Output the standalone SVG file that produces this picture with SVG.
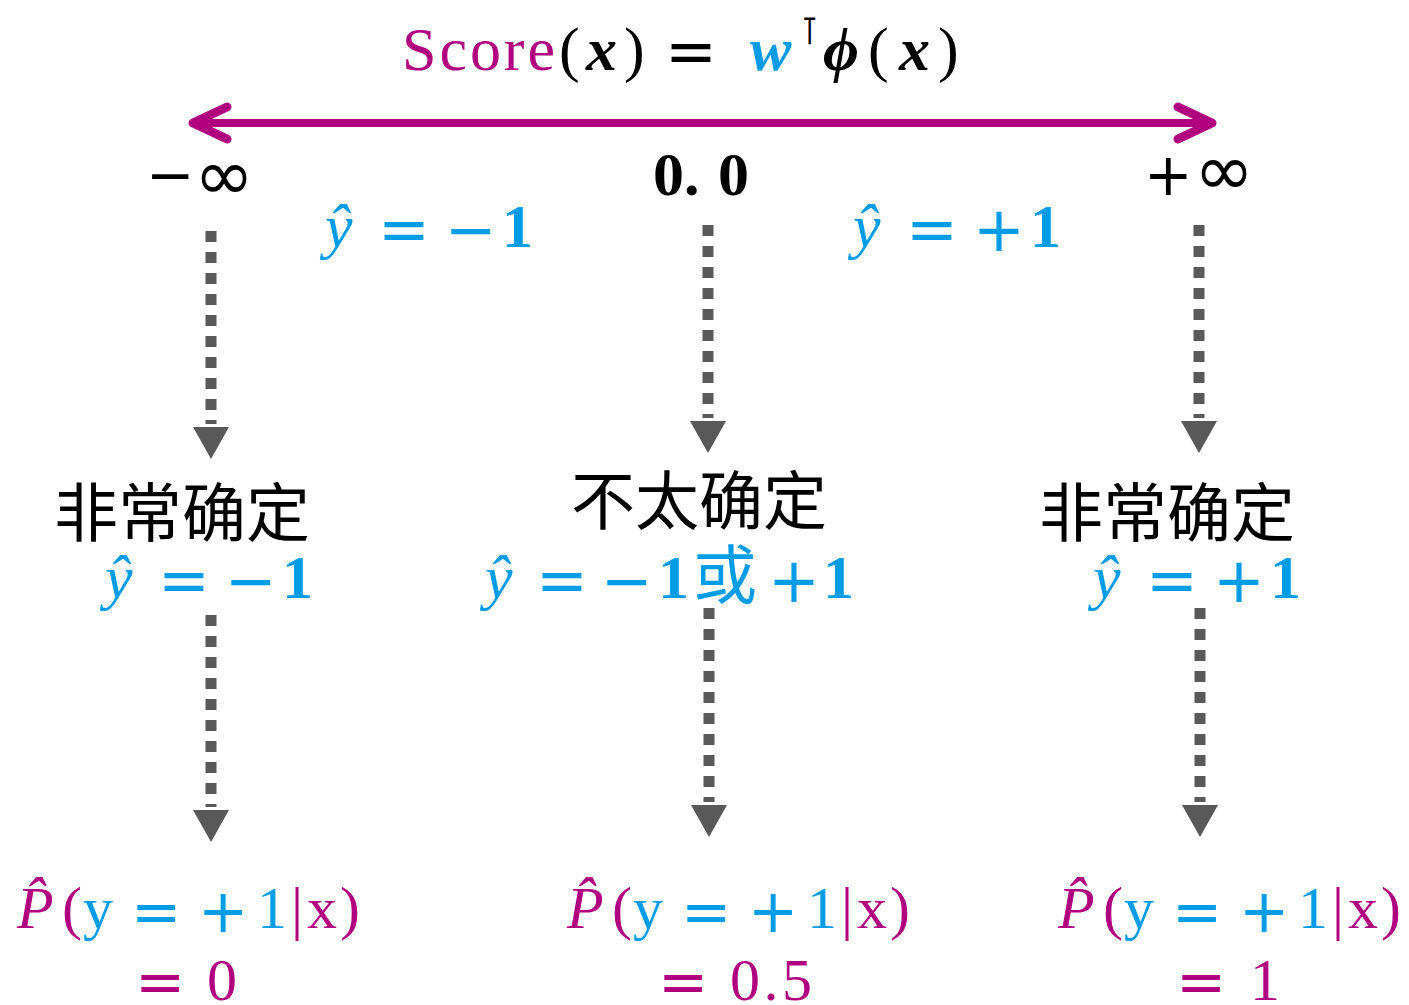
<svg xmlns="http://www.w3.org/2000/svg" width="1409" height="1005" viewBox="0 0 1409 1005">
<style>
text{font-family:"Liberation Serif","DejaVu Serif",serif;}
.m{fill:#B0007F;}
.b{fill:#009CE5;}
.k{fill:#000;}
.it{font-style:italic;}
.bd{font-weight:bold;}
.t{font-size:62px;}
.s{font-size:60px;}
.cjk{font-family:"Noto Sans CJK SC",sans-serif;font-size:64px;}
.sym{font-family:"DejaVu Sans",sans-serif;}
.op{font-family:"DejaVu Sans",sans-serif;}
.dot{stroke:#595959;stroke-width:11;stroke-dasharray:11 10;fill:none;marker-end:url(#tri);}
.axis{stroke:#B0007F;stroke-width:8;fill:none;marker-start:url(#chev);marker-end:url(#chev);}
</style>
<defs>
<marker id="tri" markerUnits="userSpaceOnUse" markerWidth="40" markerHeight="40" viewBox="-4 -20 40 40" refX="-3" refY="0" orient="auto" overflow="visible">
<path d="M0,-18 L32,0 L0,18 Z" fill="#595959"/>
</marker>
<marker id="chev" markerUnits="userSpaceOnUse" markerWidth="50" markerHeight="50" viewBox="-45 -25 50 50" refX="0" refY="0" orient="auto-start-reverse" overflow="visible">
<path d="M-34,-16 L0,0 L-34,16" fill="none" stroke="#B0007F" stroke-width="9" stroke-linecap="round" stroke-linejoin="round"/>
</marker>
</defs>

<g id="title">
<text class="t m" x="402" y="70" textLength="153">Score</text>
<text class="t k" x="559" y="70" font-size="66">(</text>
<text class="t k it bd" x="586" y="70">x</text>
<text class="t k" x="624" y="70" font-size="66">)</text>
<text class="t k op" x="665" y="73">=</text>
<text class="t b it bd" x="750" y="70" textLength="56">w</text>
<text class="sym k" x="800" y="44" font-size="38">⊺</text>
<text class="t k it bd" x="823" y="70" font-size="66">ϕ</text>
<text class="t k" x="868" y="70" font-size="66">(</text>
<text class="t k it bd" x="899" y="70">x</text>
<text class="t k" x="938" y="70" font-size="66">)</text>
</g>

<g id="connectors">
<path class="axis" d="M193,123 H1212"/>
<path class="dot" d="M211,231 V424"/>
<path class="dot" d="M708,225 V418"/>
<path class="dot" d="M1199,225 V418"/>
<path class="dot" d="M211,615 V807"/>
<path class="dot" d="M709,608 V802"/>
<path class="dot" d="M1200,608 V802"/>
</g>

<g id="scale-labels">
<text class="sym k" x="146" y="195" font-size="58">−</text>
<text class="sym k" x="194" y="200" font-size="72">∞</text>
<text class="t k bd" x="653" y="195">0.</text>
<text class="t k bd" x="718" y="195">0</text>
<text class="sym k" x="1144" y="195" font-size="58">+</text>
<text class="sym k" x="1194" y="195" font-size="72">∞</text>
</g>

<g id="region-neg">
<text class="t b it" x="325" y="247">ŷ</text>
<text class="t b op" x="378" y="251">=</text>
<text class="t b op" x="445" y="251">−</text>
<text class="t b bd" x="502" y="247">1</text>
</g>
<g id="region-pos">
<text class="t b it" x="853" y="247">ŷ</text>
<text class="t b op" x="906" y="251">=</text>
<text class="t b op" x="973" y="251">+</text>
<text class="t b bd" x="1030" y="247">1</text>
</g>

<g id="node-left">
<text class="cjk k" x="54" y="536">非常确定</text>
<text class="t b it" x="105" y="598">ŷ</text>
<text class="t b op" x="158" y="602">=</text>
<text class="t b op" x="225" y="602">−</text>
<text class="t b bd" x="282" y="598">1</text>
</g>
<g id="node-mid">
<text class="cjk k" x="571" y="524" font-size="67">不太确定</text>
<text class="t b it" x="485" y="598">ŷ</text>
<text class="t b op" x="536" y="602">=</text>
<text class="t b op" x="601" y="602">−</text>
<text class="t b bd" x="658" y="598">1</text>
<text class="cjk b" x="693" y="598">或</text>
<text class="t b op" x="768" y="602">+</text>
<text class="t b bd" x="823" y="598">1</text>
</g>
<g id="node-right">
<text class="cjk k" x="1039" y="536">非常确定</text>
<text class="t b it" x="1093" y="598">ŷ</text>
<text class="t b op" x="1146" y="602">=</text>
<text class="t b op" x="1213" y="602">+</text>
<text class="t b bd" x="1270" y="598">1</text>
</g>

<g id="prob-left">
<text class="s m it" x="17" y="928">P̂</text>
<text class="s m" x="62" y="928">(</text>
<text class="s b" x="83" y="928">y</text>
<text class="s b op" x="131" y="932">=</text>
<text class="s b op" x="198" y="932">+</text>
<text class="s b" x="257" y="928">1</text>
<text class="s m" x="291" y="928">|</text>
<text class="s m" x="307" y="928">x</text>
<text class="s m" x="340" y="928">)</text>
<text class="s m op" x="135" y="1002">=</text>
<text class="s m" x="207" y="1000">0</text>
</g>
<g id="prob-mid">
<text class="s m it" x="567" y="928">P̂</text>
<text class="s m" x="612" y="928">(</text>
<text class="s b" x="633" y="928">y</text>
<text class="s b op" x="681" y="932">=</text>
<text class="s b op" x="748" y="932">+</text>
<text class="s b" x="807" y="928">1</text>
<text class="s m" x="841" y="928">|</text>
<text class="s m" x="857" y="928">x</text>
<text class="s m" x="890" y="928">)</text>
<text class="s m op" x="658" y="1002">=</text>
<text class="s m" x="730" y="1000" textLength="82">0.5</text>
</g>
<g id="prob-right">
<text class="s m it" x="1058" y="928">P̂</text>
<text class="s m" x="1103" y="928">(</text>
<text class="s b" x="1124" y="928">y</text>
<text class="s b op" x="1172" y="932">=</text>
<text class="s b op" x="1239" y="932">+</text>
<text class="s b" x="1298" y="928">1</text>
<text class="s m" x="1332" y="928">|</text>
<text class="s m" x="1348" y="928">x</text>
<text class="s m" x="1381" y="928">)</text>
<text class="s m op" x="1176" y="1002">=</text>
<text class="s m" x="1250" y="1000">1</text>
</g>
</svg>
